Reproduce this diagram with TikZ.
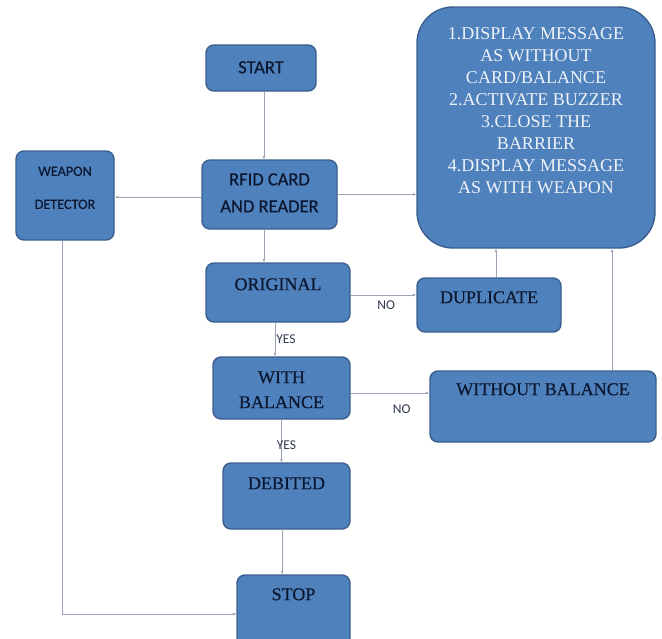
\documentclass[tikz,border=0pt]{standalone}
\usepackage{fontspec}
\setmainfont{Liberation Serif}
\newfontfamily\serheavy{Liberation Serif}[FakeBold=0.5]
\newfontfamily\carlito{Carlito}[FakeBold=0.4]
\newfontfamily\carlitolight{Carlito}
\usetikzlibrary{arrows.meta}
\definecolor{boxblue}{HTML}{4F81BD}
\definecolor{boxedge}{HTML}{3A5F8E}
\definecolor{inktext}{HTML}{0C1730}
\definecolor{wiregray}{HTML}{98A4B6}
\definecolor{lighttext}{HTML}{EEF2F7}

\begin{document}
\begin{tikzpicture}[x=1pt, y=-1pt, %
      blk/.style={fill=boxblue, draw=boxedge, line width=1.4pt, rounded corners=8pt, inner sep=0pt}, %
      ser/.style={text=inktext, font=\serheavy\fontsize{18}{25}\selectfont, align=center}, %
      san/.style={text=inktext, font=\carlito\fontsize{18.5}{27}\selectfont, align=center}, %
      sansm/.style={text=inktext, font=\carlito\fontsize{14.2}{33}\selectfont, align=center}, %
      msgtxt/.style={text=lighttext, font=\fontsize{18}{22}\selectfont, align=center}, %
      wire/.style={wiregray, line width=0.9pt, -{Latex[length=3.5pt,width=3pt]}}, %
      tag/.style={text=inktext!85, font=\carlitolight\fontsize{13.5}{15}\selectfont, inner sep=1pt}, %
      ]

    \clip (0,0) rectangle (662,638);

    \foreach \n/\x/\y/\w/\h/\dy/\sty/\txt in { %
      start/261/68/110/46/23/san/START,%
      rfid/269.5/194.5/135/69/33.5/san/{RFID CARD\\AND READER},%
      weapon/65/195.5/98/89/37.5/sansm/{WEAPON\\DETECTOR},%
      orig/278/292.5/144/59/22/ser/ORIGINAL,%
      dup/489/305/144/54/20/ser/DUPLICATE,%
      withbal/281.5/388/137/62/33.5/ser/{WITH\\BALANCE},%
      without/543/406.5/226/71/19/ser/{WITHOUT BALANCE},%
      debited/286.5/496/127/66/21/ser/DEBITED,%
      stop/293.5/613/113/76/20/ser/STOP%
    }{ %
      \node[blk, minimum width=\w pt, minimum height=\h pt] (\n) at (\x,\y) {};
      \node[\sty] (\n-txt) at ([yshift=-\dy pt]\n.north) {\txt};
    }

    \node[blk, rounded corners=36pt, minimum width=238pt, minimum height=241pt] (msg) at (536,127.5) {};
    \node[msgtxt] (msg-txt) at ([yshift=-104.5pt]msg.north) {1.DISPLAY MESSAGE\\AS WITHOUT\\CARD/BALANCE\\2.ACTIVATE BUZZER\\3.CLOSE THE\\BARRIER\\4.DISPLAY MESSAGE\\AS WITH WEAPON};

    % straight connectors
    \draw[wire] ([xshift=3pt]start.south) -- ([xshift=3pt]start.south |- rfid.north);
    \draw[wire, {Latex[length=3.5pt,width=3pt]}-] ([yshift=-1.5pt]weapon.east) -- ([yshift=-1.5pt]weapon.east -| rfid.west);
    \draw[wire] (rfid.east) -- (rfid.east -| msg.west);
    \draw[wire] ([xshift=-5.5pt]rfid.south) -- ([xshift=-5.5pt]rfid.south |- orig.north);
    \draw[wire] ([yshift=-2.5pt]orig.east) -- ([yshift=-2.5pt]orig.east -| dup.west) node[tag, pos=0.54, below=4pt] (no-a) {NO};
    \draw[wire] ([xshift=7pt]dup.north) -- ([xshift=7pt]dup.north |- msg.south);
    \draw[wire] ([xshift=69pt]without.north) -- ([xshift=69pt]without.north |- msg.south);
    \draw[wire] ([xshift=-3pt]orig.south) -- ([xshift=-3pt]orig.south |- withbal.north) node[tag, midway, xshift=11pt] (yes-a) {YES};
    \draw[wire] ([yshift=-5pt]withbal.east) -- ([yshift=-5pt]withbal.east -| without.west) node[tag, pos=0.65, below=10pt] (no-b) {NO};
    \draw[wire] (withbal.south) -- (withbal.south |- debited.north) node[tag, pos=0.6, xshift=5pt] (yes-b) {YES};
    \draw[wire] ([xshift=-4.5pt]debited.south) -- ([xshift=-4.5pt]debited.south |- stop.north);
    \draw[wire] ([xshift=-3pt]weapon.south) |- ([yshift=-1pt]stop.west);
    \end{tikzpicture}
\end{document}
